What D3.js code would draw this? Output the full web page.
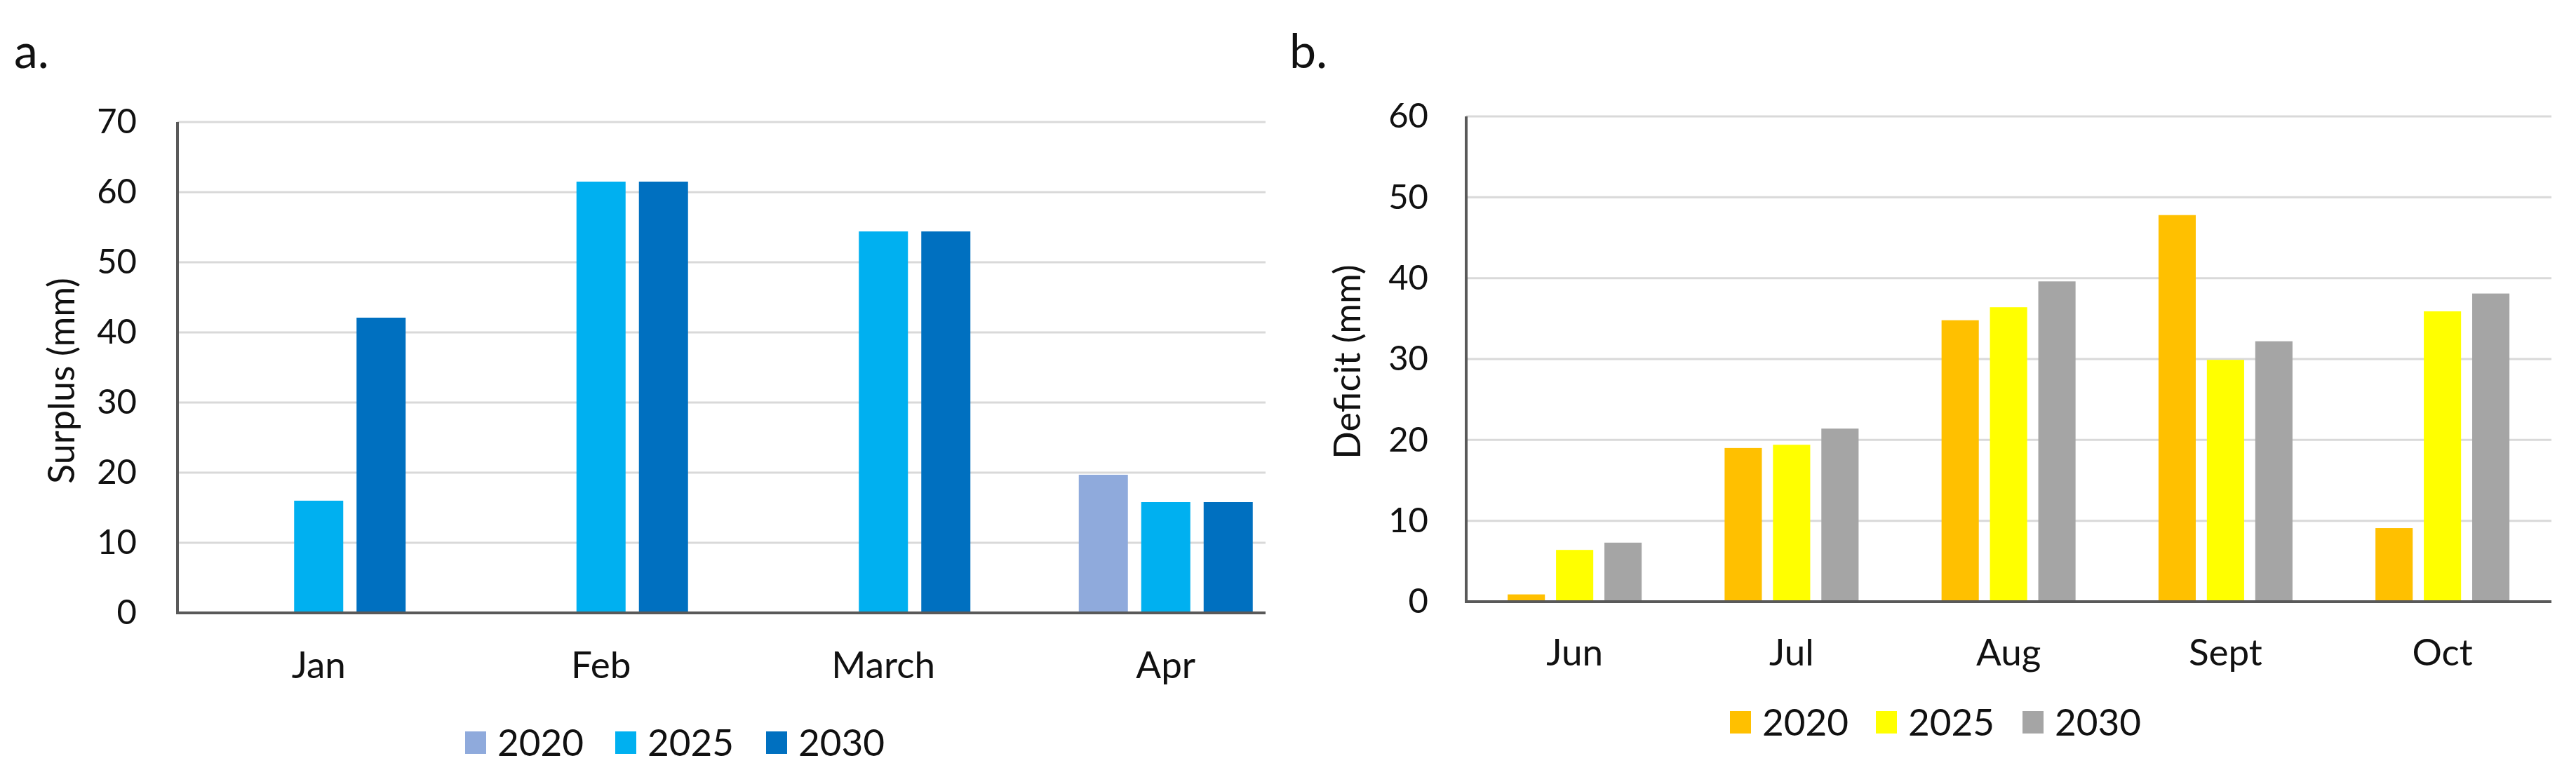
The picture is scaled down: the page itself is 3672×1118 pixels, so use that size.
<!DOCTYPE html>
<html>
<head>
<meta charset="utf-8">
<script src="https://cdn.jsdelivr.net/npm/d3@7"></script>
<style>
  body { margin: 0; background: #fff; }
  text { font-family: Lato, "Open Sans", sans-serif; fill: #111; }
</style>
</head>
<body>
<div id="chart"></div>
<script>

// ---- data ----
var seriesNames = ["2020", "2025", "2030"];

var surplusMonths = ["Jan", "Feb", "March", "Apr"];
var surplus2020 = [0, 0, 0, 19.7];
var surplus2025 = [16.0, 61.5, 54.4, 15.8];
var surplus2030 = [42.1, 61.5, 54.4, 15.8];
var surplusTicks = [0, 10, 20, 30, 40, 50, 60, 70];

var deficitMonths = ["Jun", "Jul", "Aug", "Sept", "Oct"];
var deficit2020 = [0.9, 19.0, 34.8, 47.8, 9.1];
var deficit2025 = [6.4, 19.4, 36.4, 29.9, 35.9];
var deficit2030 = [7.3, 21.4, 39.6, 32.2, 38.1];
var deficitTicks = [0, 10, 20, 30, 40, 50, 60];


var svg = d3.select("#chart").append("svg")
    .attr("width", 3672)
    .attr("height", 1118);


/*
 * draw one grouped bar panel
 */
function drawPanel(cfg) {
    var g = svg.append("g");

    var rows = cfg.months.map(function(m, i) {
        return { month: m, values: cfg.series.map(function(s, j) { return { key: seriesNames[j], v: s[i] }; }) };
    });

    var x0 = d3.scaleBand()
        .domain(cfg.months)
        .range([cfg.left, cfg.left + cfg.step * cfg.months.length]);

    var pad = (cfg.step - cfg.groupW) / 2;
    var x1 = d3.scaleBand()
        .domain(seriesNames)
        .range([pad, cfg.step - pad])
        .paddingInner(cfg.gap);

    var y = d3.scaleLinear()
        .domain([0, d3.max(cfg.ticks)])
        .range([cfg.bottom, cfg.top]);

    var color = d3.scaleOrdinal().domain(seriesNames).range(cfg.colors);

    // gridlines
    g.selectAll(".grid")
        .data(cfg.ticks.slice(1))
        .enter().append("line")
        .attr("x1", cfg.left).attr("x2", cfg.right)
        .attr("y1", function(d) { return y(d); })
        .attr("y2", function(d) { return y(d); })
        .attr("stroke", "#d9d9d9")
        .attr("stroke-width", 3);

    // bars
    var groups = g.selectAll(".grp")
        .data(rows)
        .enter().append("g")
        .attr("transform", function(d) { return "translate(" + x0(d.month) + ",0)"; });

    groups.selectAll("rect")
        .data(function(d) { return d.values; })
        .enter().append("rect")
        .attr("x", function(d) { return x1(d.key); })
        .attr("width", x1.bandwidth())
        .attr("y", function(d) { return y(d.v); })
        .attr("height", function(d) { return y(0) - y(d.v); })
        .attr("fill", function(d) { return color(d.key); });

    // y axis labels
    var yAxis = d3.axisLeft(y).tickValues(cfg.ticks).tickSize(0).tickPadding(cfg.tickPad);
    var ya = g.append("g")
        .attr("transform", "translate(" + cfg.left + ",0)")
        .call(yAxis);
    ya.select(".domain").remove();
    ya.selectAll("text").attr("font-size", 49).attr("font-family", "Lato").attr("fill", "#111");

    // x axis labels
    var xAxis = d3.axisBottom(x0).tickSize(0).tickPadding(cfg.xPad);
    var xa = g.append("g")
        .attr("transform", "translate(0," + cfg.bottom + ")")
        .call(xAxis);
    xa.select(".domain").remove();
    xa.selectAll("text").attr("font-size", 53).attr("font-family", "Lato").attr("fill", "#111");

    // axis lines
    g.append("line")
        .attr("x1", cfg.left).attr("x2", cfg.left)
        .attr("y1", cfg.top).attr("y2", cfg.bottom)
        .attr("stroke", "#595959").attr("stroke-width", 4);
    g.append("line")
        .attr("x1", cfg.left - 2).attr("x2", cfg.right)
        .attr("y1", cfg.bottom).attr("y2", cfg.bottom)
        .attr("stroke", "#595959").attr("stroke-width", 4);

    // y title
    g.append("text")
        .attr("transform", "translate(" + cfg.titleX + "," + cfg.titleY + ") rotate(-90)")
        .attr("text-anchor", "middle")
        .attr("dy", "0.35em")
        .attr("font-size", 52)
        .text(cfg.yTitle);

    // panel letter
    g.append("text")
        .attr("x", cfg.letterX).attr("y", 97)
        .attr("font-size", 68)
        .text(cfg.letter);

    // legend
    var leg = g.selectAll(".leg")
        .data(seriesNames)
        .enter().append("g")
        .attr("transform", function(d, i) { return "translate(" + cfg.legendX[i] + "," + cfg.legendY + ")"; });
    leg.append("rect")
        .attr("x", 0).attr("y", -16)
        .attr("width", 30).attr("height", 32)
        .attr("fill", function(d) { return color(d); });
    leg.append("text")
        .attr("x", 46).attr("dy", "0.36em")
        .attr("font-size", 53)
        .text(function(d) { return d; });
}


drawPanel({
    months: surplusMonths,
    series: [surplus2020, surplus2025, surplus2030],
    ticks: surplusTicks,
    colors: ["#8faadc", "#00b0f0", "#0070c0"],
    left: 253, right: 1804, step: 402.5, groupW: 248, gap: 0.2135,
    top: 174, bottom: 874,
    tickPad: 58, xPad: 55,
    yTitle: "Surplus (mm)", titleX: 88, titleY: 543,
    letter: "a.", letterX: 20,
    legendX: [663, 877, 1092], legendY: 1059
});

drawPanel({
    months: deficitMonths,
    series: [deficit2020, deficit2025, deficit2030],
    ticks: deficitTicks,
    colors: ["#ffc000", "#ffff00", "#a5a5a5"],
    left: 2090, right: 3637, step: 309.25, groupW: 191, gap: 0.23,
    top: 166, bottom: 858,
    tickPad: 54, xPad: 53,
    yTitle: "Deficit (mm)", titleX: 1921, titleY: 516,
    letter: "b.", letterX: 1838,
    legendX: [2466, 2674, 2883], legendY: 1030
});

</script>
</body>
</html>
